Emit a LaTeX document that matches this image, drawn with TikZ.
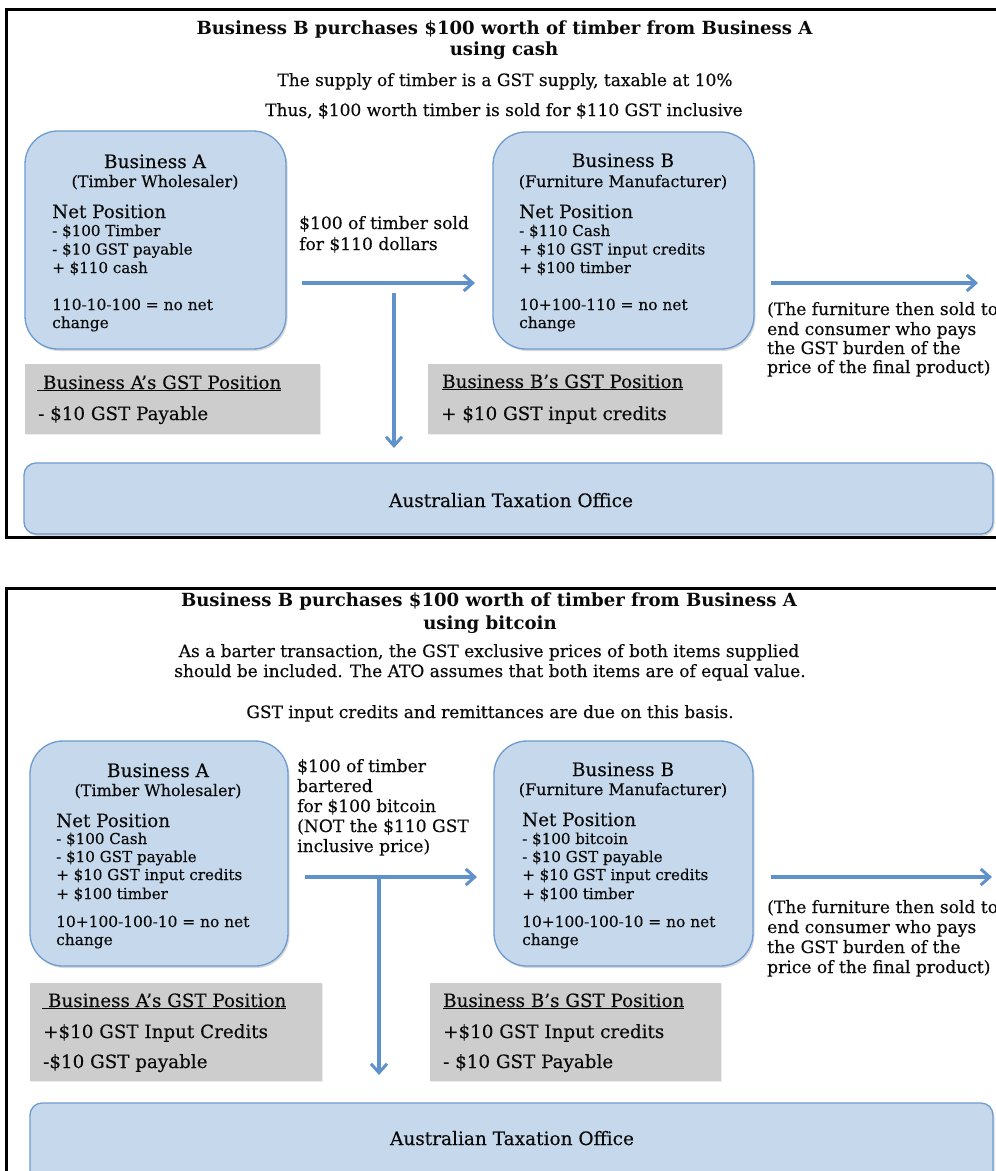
\documentclass[tikz,border=0pt]{standalone}
\usepackage{fontspec}
\setmainfont{DejaVu Serif}[UprightFeatures={FakeBold=0.35}]
\usetikzlibrary{arrows.meta,shadows}
\definecolor{bfill}{RGB}{198,216,236}
\definecolor{bdr}{RGB}{110,155,208}
\definecolor{gfill}{RGB}{205,205,205}
\definecolor{acol}{RGB}{95,145,203}
\definecolor{txt}{RGB}{10,10,10}
\newcommand\fsz[1]{\fontsize{#1}{#1}\selectfont}
\tikzset{
  bluebox/.style={draw=bdr, line width=1.3pt, fill=bfill, rounded corners=33pt,
    drop shadow={shadow xshift=1.5pt, shadow yshift=-2pt, opacity=0.3}},
  atobox/.style={draw=bdr, line width=1.3pt, fill=bfill, rounded corners=12pt,
    drop shadow={shadow xshift=1.5pt, shadow yshift=-2pt, opacity=0.3}},
  graybox/.style={fill=gfill, draw=none, drop shadow={shadow xshift=1pt, shadow yshift=-1pt, opacity=0.15}},
  frame/.style={draw=black, line width=3pt},
  arr/.style={draw=acol, line width=3.5pt, -{Straight Barb[length=9pt,width=16pt,line width=3pt]}},
  tl/.style={inner sep=0pt, anchor=base west, text=txt},
  tc/.style={inner sep=0pt, anchor=base, text=txt},
  ttl/.style={font={\bfseries\fsz{18.1}}},
  body/.style={font=\fsz{17}},
  head/.style={font=\fsz{18.5}},
  sub/.style={font=\fsz{16}},
  np/.style={font=\fsz{18.3}},
  item/.style={font=\fsz{15.1}},
  eq/.style={font=\fsz{15.4}},
  lab/.style={font=\fsz{17.1}},
  gpos/.style={font=\fsz{18.3}},
  ato/.style={font=\fsz{18.5}},
}
\begin{document}
\begin{tikzpicture}[x=1pt,y=-1pt]
\useasboundingbox (0,0) rectangle (996,1171);
\fill[white] (0,0) rectangle (996,1171);
% ================= TOP PANEL =================
\draw[frame] (6,9) rectangle (1012,537);
\node[tc,ttl] (t1) at (504.5,34) {Business B purchases \$100 worth of timber from Business A};
\node[tc,ttl] (t2) at (504,55) {using cash};
\node[tc,body] (t3) at (505,86) {The supply of timber is a GST supply, taxable at 10\%};
\node[tc,body] (t4) at (504,116) {Thus, \$100 worth timber is sold for \$110 GST inclusive};

\node[bluebox, minimum width=261pt, minimum height=218pt] (A1) at (155.5,240) {};
\node[bluebox, minimum width=261pt, minimum height=217pt] (B1) at (623.5,240.5) {};
\node[graybox, minimum width=295pt, minimum height=70pt] (GA1) at (172.5,399) {};
\node[graybox, minimum width=294pt, minimum height=70pt] (GB1) at (575,399) {};
\node[atobox, minimum width=969pt, minimum height=71pt] (ATO1) at (508.5,498.5) {};

\node[tc,head] (a1h) at (155,168) {Business A};
\node[tc,sub] (a1s) at (155,187) {(Timber Wholesaler)};
\node[tl,np] (a1n) at (52,218) {Net Position};
\node[tl,item] (a1i1) at (52,236) {- \$100 Timber};
\node[tl,item] (a1i2) at (52,254.5) {- \$10 GST payable};
\node[tl,item] (a1i3) at (52,273) {+ \$110 cash};
\node[tl,eq] (a1e1) at (52,310) {110-10-100 = no net};
\node[tl,eq] (a1e2) at (52,328) {change};

\node[tc,head] (b1h) at (623,167) {Business B};
\node[tc,sub] (b1s) at (623,187) {(Furniture Manufacturer)};
\node[tl,np] (b1n) at (519,218) {Net Position};
\node[tl,item] (b1i1) at (519,236) {- \$110 Cash};
\node[tl,item] (b1i2) at (519,254.5) {+ \$10 GST input credits};
\node[tl,item] (b1i3) at (519,273) {+ \$100 timber};
\node[tl,eq] (b1e1) at (519,310) {10+100-110 = no net};
\node[tl,eq] (b1e2) at (519,328) {change};

\node[tl,lab] (l1a) at (299,229) {\$100 of timber sold};
\node[tl,lab] (l1b) at (299,250) {for \$110 dollars};

\node[tl,gpos] (ga1a) at (37,389) {\underline{\ Business A’s GST Position}};
\node[tl,gpos] (ga1b) at (38,420) {- \$10 GST Payable};
\node[tl,gpos] (gb1a) at (442,388) {\underline{Business B’s GST Position}};
\node[tl,gpos] (gb1b) at (441,420) {+ \$10 GST input credits};

\node[tl,lab] (f1a) at (767,315) {(The furniture then sold to};
\node[tl,lab] (f1b) at (767,335) {end consumer who pays};
\node[tl,lab] (f1c) at (767,354) {the GST burden of the};
\node[tl,lab] (f1d) at (767,373) {price of the final product)};

\node[tc,ato] (ato1t) at (511,507) {Australian Taxation Office};

\coordinate (h1s) at (302,283);
\coordinate (h1e) at (475,283);
\coordinate (v1s) at (394,293);
\coordinate (v1e) at (394,448);
\coordinate (r1s) at (771,283);
\coordinate (r1e) at (978,283);
\draw[arr] (h1s) -- (h1e);
\draw[arr] (v1s) -- (v1e);
\draw[arr] (r1s) -- (r1e);

% ================= BOTTOM PANEL =================
\draw[frame] (6,588) rectangle (1012,1190);
\node[tc,ttl] (u1) at (489,606) {Business B purchases \$100 worth of timber from Business A};
\node[tc,ttl] (u2) at (490,629) {using bitcoin};
\node[tc,body] (u3) at (489,657) {As a barter transaction, the GST exclusive prices of both items supplied};
\node[tc,body] (u4) at (490,677) {should be included. The ATO assumes that both items are of equal value.};
\node[tc,body] (u5) at (490,718) {GST input credits and remittances are due on this basis.};

\node[bluebox, minimum width=258pt, minimum height=225pt] (A2) at (159,853.5) {};
\node[bluebox, minimum width=259pt, minimum height=225pt] (B2) at (623.5,853.5) {};
\node[graybox, minimum width=292pt, minimum height=98pt] (GA2) at (176,1032) {};
\node[graybox, minimum width=291pt, minimum height=98pt] (GB2) at (575.5,1032) {};
\node[atobox, minimum width=963pt, minimum height=84pt] (ATO2) at (511.5,1145) {};

\node[tc,head] (a2h) at (158,777) {Business A};
\node[tc,sub] (a2s) at (158,796) {(Timber Wholesaler)};
\node[tl,np] (a2n) at (56,827) {Net Position};
\node[tl,item] (a2i1) at (56,844) {- \$100 Cash};
\node[tl,item] (a2i2) at (56,862) {- \$10 GST payable};
\node[tl,item] (a2i3) at (56,880) {+ \$10 GST input credits};
\node[tl,item] (a2i4) at (56,899) {+ \$100 timber};
\node[tl,eq] (a2e1) at (56,927) {10+100-100-10 = no net};
\node[tl,eq] (a2e2) at (56,945) {change};

\node[tc,head] (b2h) at (623,776) {Business B};
\node[tc,sub] (b2s) at (623,795) {(Furniture Manufacturer)};
\node[tl,np] (b2n) at (522,826) {Net Position};
\node[tl,item] (b2i1) at (522,844) {- \$100 bitcoin};
\node[tl,item] (b2i2) at (522,862) {- \$10 GST payable};
\node[tl,item] (b2i3) at (522,880) {+ \$10 GST input credits};
\node[tl,item] (b2i4) at (522,899) {+ \$100 timber};
\node[tl,eq] (b2e1) at (522,927) {10+100-100-10 = no net};
\node[tl,eq] (b2e2) at (522,945) {change};

\node[tl,lab] (l2a) at (297,772) {\$100 of timber};
\node[tl,lab] (l2b) at (297,792) {bartered};
\node[tl,lab] (l2c) at (297,812) {for \$100 bitcoin};
\node[tl,lab] (l2d) at (297,832) {(NOT the \$110 GST};
\node[tl,lab] (l2e) at (297,852) {inclusive price)};

\node[tl,gpos] (ga2a) at (42,1007) {\underline{\ Business A’s GST Position}};
\node[tl,gpos] (ga2b) at (43,1038) {+\$10 GST Input Credits};
\node[tl,gpos] (ga2c) at (43,1068) {-\$10 GST payable};
\node[tl,gpos] (gb2a) at (443,1007) {\underline{Business B’s GST Position}};
\node[tl,gpos] (gb2b) at (443,1038) {+\$10 GST Input credits};
\node[tl,gpos] (gb2c) at (443,1068) {- \$10 GST Payable};

\node[tl,lab] (f2a) at (767,913) {(The furniture then sold to};
\node[tl,lab] (f2b) at (767,933) {end consumer who pays};
\node[tl,lab] (f2c) at (767,953) {the GST burden of the};
\node[tl,lab] (f2d) at (767,973) {price of the final product)};

\node[tc,ato] (ato2t) at (512,1145) {Australian Taxation Office};

\coordinate (h2s) at (305,877);
\coordinate (h2e) at (477,877);
\coordinate (v2s) at (379,877);
\coordinate (v2e) at (379,1075);
\coordinate (r2s) at (771,877);
\coordinate (r2e) at (992,877);
\draw[arr] (h2s) -- (h2e);
\draw[arr] (v2s) -- (v2e);
\draw[arr] (r2s) -- (r2e);
\end{tikzpicture}
\end{document}
